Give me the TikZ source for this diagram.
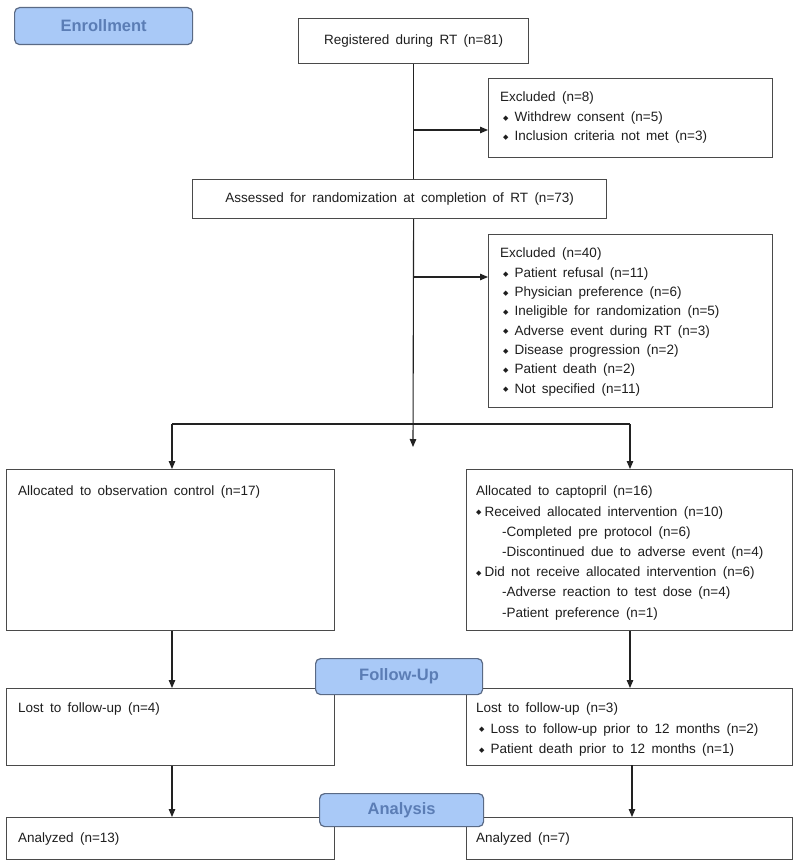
\documentclass[tikz,border=0pt]{standalone}
\usepackage{fontspec}
\setmainfont{Liberation Sans}[WordSpace=1.7]
\newfontfamily\dejavu{DejaVu Sans}
\usetikzlibrary{arrows.meta,calc}
\definecolor{boxgray}{HTML}{4A4A4A}
\definecolor{phasefill}{HTML}{A9C9F7}
\definecolor{phaseborder}{HTML}{5A6A85}
\definecolor{phasetext}{HTML}{5B7DB5}
\definecolor{textc}{HTML}{1E1E1E}
\definecolor{linec}{HTML}{222222}
\newcommand\bl{\raisebox{1.2pt}{\dejavu\fontsize{7}{7}\selectfont ◆}\hspace{6pt}}
\newcommand\blb{\raisebox{1.2pt}{\dejavu\fontsize{7}{7}\selectfont ◆}\hspace{3pt}}
\begin{document}
\begin{tikzpicture}[x=1pt,y=-1pt,
  box/.style={draw=boxgray, line width=1.2pt, inner sep=0pt, anchor=north west, font=\fontsize{13.5}{16}\selectfont, text=textc},
  phase/.style={draw=phaseborder, fill=phasefill, rounded corners=5pt, line width=1.2pt, inner sep=0pt, anchor=north west, font=\fontsize{16.5}{18}\selectfont\bfseries, text=phasetext},
  txt/.style={anchor=north west, inner sep=0pt, align=left, font=\fontsize{13.5}{19.3}\selectfont, text=textc},
  txtb/.style={anchor=north west, inner sep=0pt, align=left, font=\fontsize{13.5}{20.2}\selectfont, text=textc},
  arr/.style={draw=linec, line width=1.1pt, -{Triangle[length=8pt,width=6.5pt]}},
  ln/.style={draw=linec, line width=1.1pt}]
\useasboundingbox (0,0) rectangle (800,867);
\fill[white] (0,0) rectangle (800,867);

% boxes
\node[box, minimum width=230pt, minimum height=45pt] (reg) at (298,18) {Registered during RT (n=81)};
\node[box, minimum width=284pt, minimum height=79pt] (ex1) at (488,78) {};
\node[box, minimum width=414pt, minimum height=39pt] (ass) at (192,179) {Assessed for randomization at completion of RT (n=73)};
\node[box, minimum width=284pt, minimum height=173pt] (ex2) at (488,234) {};
\node[box, minimum width=328pt, minimum height=161pt] (obs) at (6,469) {};
\node[box, minimum width=326pt, minimum height=161pt] (cap) at (466,469) {};
\node[box, minimum width=328pt, minimum height=77pt] (lost1) at (6,688) {};
\node[box, minimum width=326pt, minimum height=77pt] (lost2) at (466,688) {};
\node[box, minimum width=328pt, minimum height=42pt] (an1) at (6,817) {};
\node[box, minimum width=326pt, minimum height=42pt] (an2) at (466,817) {};

% box texts
\node[txt] (ex1t) at (500,92) {Excluded (n=8)\\ \hspace{3pt}\bl Withdrew consent (n=5)\\ \hspace{3pt}\bl Inclusion criteria not met (n=3)};
\node[txt] (ex2t) at (500,248) {Excluded (n=40)\\ \hspace{3pt}\bl Patient refusal (n=11)\\ \hspace{3pt}\bl Physician preference (n=6)\\ \hspace{3pt}\bl Ineligible for randomization (n=5)\\ \hspace{3pt}\bl Adverse event during RT (n=3)\\ \hspace{3pt}\bl Disease progression (n=2)\\ \hspace{3pt}\bl Patient death (n=2)\\ \hspace{3pt}\bl Not specified (n=11)};
\node[txtb] (obst) at (18,486) {Allocated to observation control (n=17)};
\node[txtb] (capt) at (476,486) {Allocated to captopril (n=16)\\ \blb Received allocated intervention (n=10)\\ \hspace{26pt}-Completed pre protocol (n=6)\\ \hspace{26pt}-Discontinued due to adverse event (n=4)\\ \blb Did not receive allocated intervention (n=6)\\ \hspace{26pt}-Adverse reaction to test dose (n=4)\\ \hspace{26pt}-Patient preference (n=1)};
\node[txtb] (lost1t) at (18,703) {Lost to follow-up (n=4)};
\node[txtb] (lost2t) at (476,703) {Lost to follow-up (n=3)\\ \hspace{3pt}\bl Loss to follow-up prior to 12 months (n=2)\\ \hspace{3pt}\bl Patient death prior to 12 months (n=1)};
\node[txtb] (an1t) at (18,833) {Analyzed (n=13)};
\node[txtb] (an2t) at (476,833) {Analyzed (n=7)};

% connectors
\coordinate (j1) at (413,130);
\coordinate (j2) at (413,277);
\coordinate (sL) at (172,424);
\coordinate (sR) at (630,424);
\coordinate (cend) at (413,447);
\coordinate (aR) at (632,765);

\draw[ln] (reg.south) -- (reg.south |- ass.north);
\draw[arr] (j1) -- (j1 -| ex1.west);
\draw[arr] (reg.south |- ass.south) -- (cend);
\draw[arr] (j2) -- (j2 -| ex2.west);
\draw[ln] (sL) -- (sR);
\draw[arr] (sL) -- (sL |- obs.north);
\draw[arr] (sR) -- (sR |- cap.north);
\draw[arr] (sL |- obs.south) -- (sL |- lost1.north);
\draw[arr] (sR |- cap.south) -- (sR |- lost2.north);
\draw[arr] (sL |- lost1.south) -- (sL |- an1.north);
\draw[arr] (aR) -- (aR |- an2.north);

% phase labels
\node[phase, minimum width=178pt, minimum height=37pt] (enr) at (14,7) {Enrollment};
\node[phase, minimum width=167pt, minimum height=36pt] (fu) at (315,658) {Follow-Up};
\node[phase, minimum width=164pt, minimum height=33pt] (ana) at (319,793) {Analysis};
\end{tikzpicture}
\end{document}
